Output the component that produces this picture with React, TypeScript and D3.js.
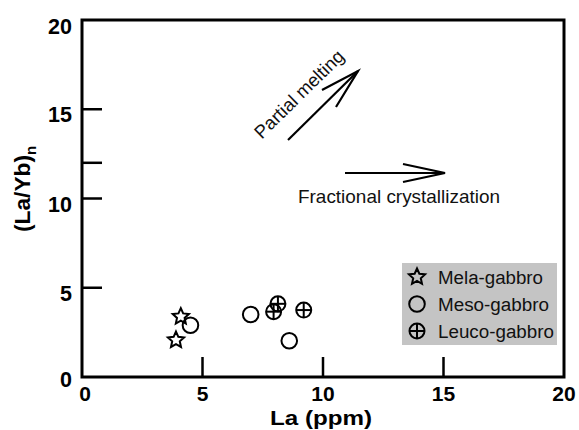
import React from "react";
import * as d3 from "d3";

const melaLa = [4.1, 3.9];
const melaRatio = [3.38, 2.07];
const mesoLa = [4.5, 7.0, 8.6];
const mesoRatio = [2.9, 3.5, 2.03];
const leucoLa = [7.95, 8.13, 9.2];
const leucoRatio = [3.66, 4.1, 3.75];

const xTicks = [5, 10, 15];
const xTickLabels = [0, 5, 10, 15, 20];
const yTicks = [5, 10, 12, 15];
const yTickLabels = [0, 5, 10, 15, 20];
const legendNames = ["Mela-gabbro", "Meso-gabbro", "Leuco-gabbro"];
const legendWidths = [105, 111, 116];

const W = 579;
const H = 430;
const left = 82, right = 564, top = 20, bottom = 377;
const FONT = "'Liberation Sans', Arial, sans-serif";

function starPath(cx: number, cy: number, ro: number, ri: number) {
  const pts: [number, number][] = [];
  for (let i = 0; i < 10; i++) {
    const a = (Math.PI / 5) * i - Math.PI / 2;
    const r = i % 2 === 0 ? ro : ri;
    pts.push([cx + r * Math.cos(a), cy + r * Math.sin(a)]);
  }
  return (d3.line()(pts) as string) + "Z";
}

function Star({ x, y }: { x: number; y: number }) {
  return <path d={starPath(x, y, 8.5, 4)} fill="none" stroke="#000" strokeWidth={2} strokeLinejoin="miter" />;
}
function Circ({ x, y }: { x: number; y: number }) {
  return <circle cx={x} cy={y} r={7.8} fill="none" stroke="#000" strokeWidth={2} />;
}
function Leuco({ x, y }: { x: number; y: number }) {
  const r = 7.5;
  return (
    <g stroke="#000" strokeWidth={2} fill="none">
      <circle cx={x} cy={y} r={r} />
      <line x1={x - r} x2={x + r} y1={y} y2={y} />
      <line x1={x} x2={x} y1={y - r} y2={y + r} />
    </g>
  );
}

export default function App() {
  const x = d3.scaleLinear().domain([0, 20]).range([left, right]);
  const y = d3.scaleLinear().domain([0, 20]).range([bottom, top]);

  const pmStart: [number, number] = [288, 140];
  const pmTip: [number, number] = [358, 71];
  const fcStart: [number, number] = [345, 173];
  const fcTip: [number, number] = [445, 173];

  const legX = 402, legY = 263, legW = 155, legH = 82;
  const rowY = [277, 304, 331];

  return (
    <svg width={W} height={H} style={{ position: "absolute", left: 0, top: 0, background: "#fff" }} fontFamily={FONT}>
      <rect x={0} y={0} width={W} height={H} fill="#fff" />
      {/* legend box */}
      <rect x={legX} y={legY} width={legW} height={legH} fill="#c4c4c4" />
      {legendNames.map((n, i) => (
        <g key={n}>
          {i === 0 && <Star x={417} y={rowY[i]} />}
          {i === 1 && <Circ x={417} y={rowY[i]} />}
          {i === 2 && <Leuco x={417} y={rowY[i]} />}
          <text x={438} y={rowY[i] + 6.5} fontSize={18} fill="#111" textLength={legendWidths[i]} lengthAdjust="spacingAndGlyphs">{n}</text>
        </g>
      ))}

      {/* frame */}
      <rect x={left} y={top} width={right - left} height={bottom - top} fill="none" stroke="#000" strokeWidth={3} />
      {xTicks.map((t) => (
        <line key={"xt" + t} x1={x(t)} x2={x(t)} y1={bottom} y2={bottom - 20} stroke="#000" strokeWidth={2.5} />
      ))}
      {yTicks.map((t) => (
        <line key={"yt" + t} x1={left} x2={left + 20} y1={y(t)} y2={y(t)} stroke="#000" strokeWidth={2.5} />
      ))}
      {xTickLabels.map((t) => (
        <text key={"xl" + t} x={x(t) + (t === 0 ? 3 : 0)} y={401} textAnchor="middle" fontSize={21} fontWeight="bold">{t}</text>
      ))}
      {yTickLabels.map((t) => (
        <text key={"yl" + t} x={72} y={y(t) + 10 + (t === 20 ? 4 : t === 0 ? 0 : 3)} textAnchor="end" fontSize={21.5} fontWeight="bold">{t}</text>
      ))}

      {/* axis titles */}
      <text x={321} y={425} textAnchor="middle" fontSize={20} fontWeight="bold" textLength={102} lengthAdjust="spacingAndGlyphs">La (ppm)</text>
      <text transform="translate(30,232) rotate(-90)" fontSize={21.5} fontWeight="bold">
        <tspan textLength={77} lengthAdjust="spacingAndGlyphs">(La/Yb)</tspan>
        <tspan fontSize={15} dy={6}>n</tspan>
      </text>

      {/* arrows */}
      <g stroke="#000" strokeWidth={2.2} fill="none">
        <line x1={pmStart[0]} y1={pmStart[1]} x2={pmTip[0]} y2={pmTip[1]} />
        <polyline points={`${pmTip[0] - 36},${pmTip[1] + 19} ${pmTip[0]},${pmTip[1]} ${pmTip[0] - 22},${pmTip[1] + 36}`} />
        <line x1={fcStart[0]} y1={fcStart[1]} x2={fcTip[0]} y2={fcTip[1]} />
        <polyline points={`${fcTip[0] - 42},${fcTip[1] - 9} ${fcTip[0]},${fcTip[1]} ${fcTip[0] - 42},${fcTip[1] + 9}`} />
      </g>
      <text transform="translate(299,94) rotate(-44.5)" textAnchor="middle" dominantBaseline="central" fontSize={18.5} fill="#111" textLength={117} lengthAdjust="spacingAndGlyphs">Partial melting</text>
      <text x={298} y={203} fontSize={18.5} fill="#111" textLength={202} lengthAdjust="spacingAndGlyphs">Fractional crystallization</text>

      {/* data */}
      {melaLa.map((v, i) => <Star key={"m" + i} x={x(v)} y={y(melaRatio[i])} />)}
      {mesoLa.map((v, i) => <Circ key={"c" + i} x={x(v)} y={y(mesoRatio[i])} />)}
      {leucoLa.map((v, i) => <Leuco key={"l" + i} x={x(v)} y={y(leucoRatio[i])} />)}
    </svg>
  );
}
